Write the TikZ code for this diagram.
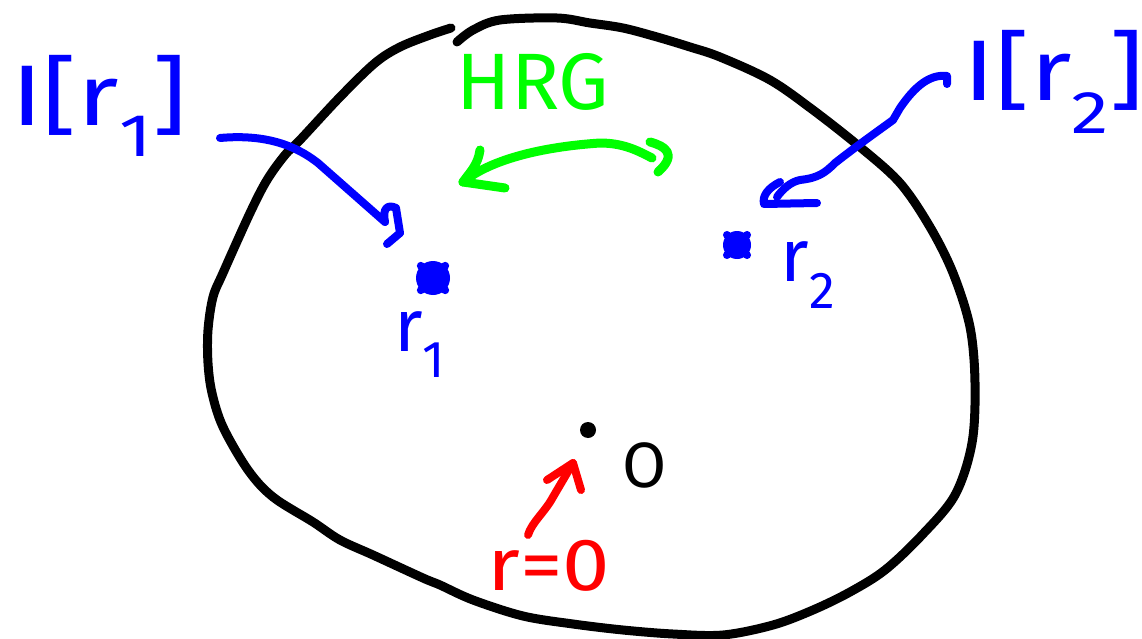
\documentclass[tikz,border=0pt]{standalone}
\usepackage{fontspec}
\setmainfont{Fira Sans}
\definecolor{penblue}{RGB}{0,0,255}
\definecolor{pengreen}{RGB}{0,255,0}
\definecolor{penred}{RGB}{255,0,0}
\begin{document}
\begin{tikzpicture}[x=1pt,y=-1pt,line cap=round,line join=round,
  outline/.style={line width=9pt,draw=black},
  bluepen/.style={line width=8pt,draw=penblue},
  greenpen/.style={line width=9pt,draw=pengreen},
  redpen/.style={line width=8pt,draw=penred},
  lbl/.style={inner sep=0pt,anchor=center},
  starblob/.style={circle,fill=penblue,inner sep=0pt,minimum size=34pt}]
\useasboundingbox (0,0) rectangle (1142,639);
\fill[white] (0,0) rectangle (1142,639);

% outline of the disc (open at the top)
\draw[outline] plot[smooth,tension=0.55] coordinates {
 (457,42) (473,30) (500,20) (557,18) (590,23) (623,28) (657,37) (690,47)
 (720,57) (770,80) (813,110) (860,147) (900,183) (930,227) (953,273)
 (970,327) (975,383) (972,443) (955,495) (922,535) (885,570) (850,592)
 (813,610) (773,625) (723,635) (673,634) (623,630) (573,624) (523,616)
 (473,600) (440,585) (423,578) (373,555) (340,540) (313,522) (273,497)
 (248,470) (223,427) (212,393) (208,363) (208,330) (213,297) (223,273)
 (250,213) (267,180) (285,155) (300,140) (340,97) (375,63) (400,47)
 (430,35) (451,28)};

% labels
\node[lbl,text=penblue,font=\fontsize{86}{86}\selectfont,xscale=1.25] (I1) at (99,106) {I[r\textsubscript{1}]};
\node[lbl,text=penblue,font=\fontsize{86}{86}\selectfont,xscale=1.25] (I2) at (1054,82) {I[r\textsubscript{2}]};
\node[lbl,text=pengreen,font=\fontsize{80}{80}\selectfont] (hrg) at (533,82) {HRG};
\node[lbl,text=penblue,font=\fontsize{74}{74}\selectfont] (r1) at (420,345) {r\textsubscript{1}};
\node[lbl,text=penblue,font=\fontsize{74}{74}\selectfont] (r2) at (808,275) {r\textsubscript{2}};
\node[lbl,text=penred,font=\fontsize{74}{74}\selectfont,xscale=1.15] (r0) at (549,566) {r=0};
\node[lbl,text=black,font=\fontsize{64}{64}\selectfont] (O) at (645,465) {O};

% points
\node[starblob] (s1) at (433,278) {};
\draw[bluepen] (s1.north west) -- (s1.south east) (s1.south west) -- (s1.north east);
\node[starblob,minimum size=28pt] (s2) at (737,245) {};
\draw[bluepen] (s2.north west) -- (s2.south east) (s2.south west) -- (s2.north east);
\node[circle,fill=black,inner sep=0pt,minimum size=16pt] (orig) at (588,430) {};

% connector I[r1] -> r1
\coordinate (c1a) at (220,138);
\coordinate (c1b) at (385,222);
\draw[bluepen] (c1a) .. controls (265,134) and (295,145) .. (318,163) -- (c1b);
\draw[bluepen] (c1b) .. controls (382,208) and (388,204) .. (396,208) -- (400,233) -- (387,244);

% connector I[r2] -> r2
\coordinate (c2a) at (947,84);
\coordinate (c2b) at (777,197);
\draw[bluepen] (c2a) -- (947,76) .. controls (930,74) and (915,86) .. (900,108)
  -- (893,120) .. controls (878,131) and (858,145) .. (835,163)
  .. controls (825,173) and (818,178) .. (800,180) .. controls (790,182) and (782,190) .. (c2b);
\draw[bluepen] (780,182) .. controls (768,188) and (762,196) .. (764,204) -- (817,203);

% HRG double arrow
\coordinate (g1) at (463,182);
\coordinate (g2) at (652,158);
\draw[greenpen] (g1) .. controls (490,160) and (540,147) .. (600,143)
  .. controls (625,143) and (640,152) .. (g2);
\draw[greenpen] (480,150) .. controls (478,165) and (470,172) .. (g1) -- (505,188);
\draw[greenpen] (650,142) .. controls (665,146) and (678,154) .. (658,172);

% r=0 arrow
\coordinate (ra) at (528,535);
\coordinate (rb) at (573,463);
\draw[redpen] (ra) .. controls (532,522) and (545,512) .. (553,497) -- (rb);
\draw[redpen] (547,480) -- (rb) -- (581,490);
\end{tikzpicture}
\end{document}
